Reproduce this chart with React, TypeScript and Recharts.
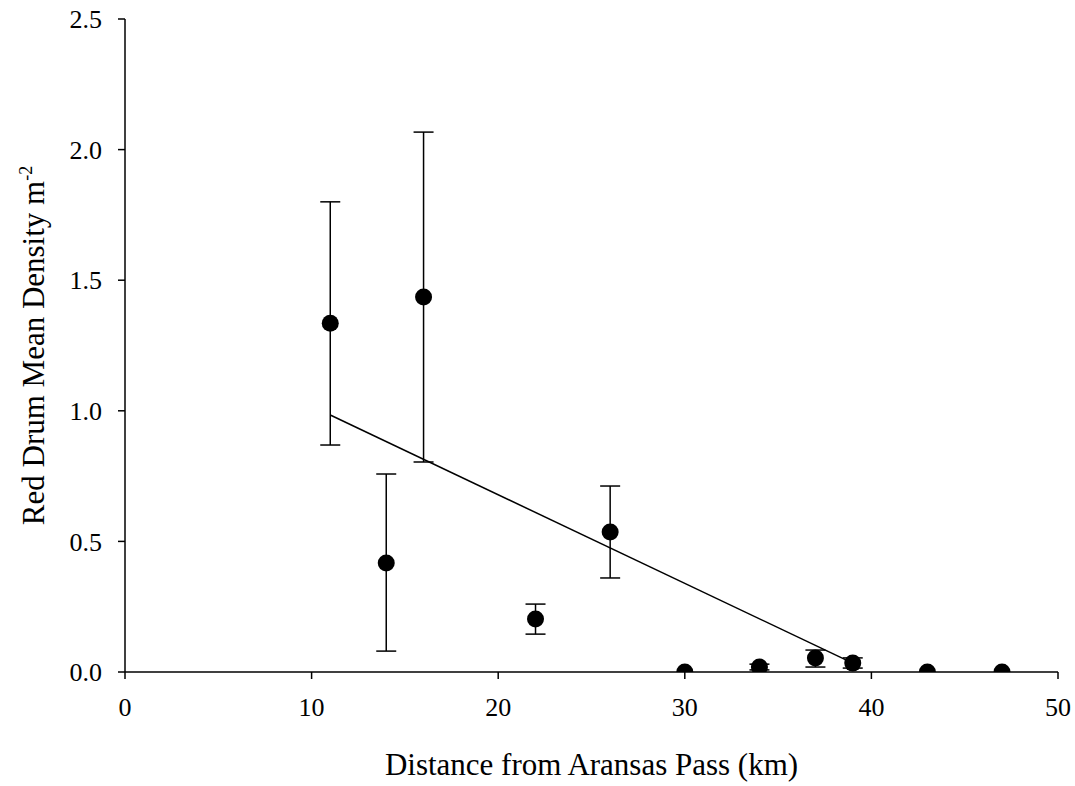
import * as React from "react"
import { ComposedChart, Scatter, ErrorBar, XAxis, YAxis } from "recharts"

// distance from Aransas Pass (km) and red drum mean density (m^-2)
const distance = [11, 14, 16, 22, 26, 30, 34, 37, 39, 43, 47]
const density = [1.335, 0.417, 1.436, 0.203, 0.536, 0, 0.019, 0.054, 0.034, 0, 0]
// error bar ends (null = no bar drawn)
const lowerEnd = [0.869, 0.08, 0.804, 0.145, 0.36, null, 0.008, 0.019, 0.015, null, null]
const upperEnd = [1.8, 0.758, 2.067, 0.26, 0.712, null, 0.03, 0.084, 0.054, null, null]

// fitted regression line endpoints
const fitX = [11, 39]
const fitY = [0.984, 0.034]

const xTicks = [0, 10, 20, 30, 40, 50]
const yTicks = [0, 0.5, 1.0, 1.5, 2.0, 2.5]

const withBars = distance
  .map((x, i) => ({
    x,
    y: density[i],
    err: lowerEnd[i] == null ? null : [density[i] - lowerEnd[i]!, upperEnd[i]! - density[i]],
  }))
  .filter((d) => d.err != null)

const noBars = distance
  .map((x, i) => ({ x, y: density[i], has: lowerEnd[i] != null }))
  .filter((d) => !d.has)

const fitData = fitX.map((x, i) => ({ x, y: fitY[i] }))

const FONT = "'Liberation Serif', 'Times New Roman', serif"

const Dot = (props: any) => <circle cx={props.cx} cy={props.cy} r={8.5} fill="#000" />
const NoDot = () => <g />

const tickStyle = { fill: "#000", fontSize: 26, fontFamily: FONT }

export default function App() {
  return (
    <div style={{ position: "absolute", left: 0, top: 0, background: "#fff" }}>
      <ComposedChart
        width={1075}
        height={786}
        margin={{ top: 19, right: 17, bottom: 14, left: 0 }}
      >
        <XAxis
          type="number"
          dataKey="x"
          domain={[0, 50]}
          ticks={xTicks}
          tickSize={7}
          height={100}
          axisLine={{ stroke: "#000", strokeWidth: 1.5 }}
          tickLine={{ stroke: "#000", strokeWidth: 1.5 }}
          tick={tickStyle}
          tickMargin={19}
          allowDataOverflow
          label={({ viewBox }: any) => (
            <text
              x={viewBox.x + viewBox.width / 2}
              y={775}
              textAnchor="middle"
              fontSize={31}
              fontFamily={FONT}
              fill="#000"
            >
              Distance from Aransas Pass (km)
            </text>
          )}
        />
        <YAxis
          type="number"
          dataKey="y"
          domain={[0, 2.5]}
          ticks={yTicks}
          tickFormatter={(v: number) => v.toFixed(1)}
          tickSize={7}
          width={125}
          axisLine={{ stroke: "#000", strokeWidth: 1.5 }}
          tickLine={{ stroke: "#000", strokeWidth: 1.5 }}
          tick={tickStyle}
          tickMargin={16}
          allowDataOverflow
          label={({ viewBox }: any) => {
            const cy = viewBox.y + viewBox.height / 2
            return (
              <text
                x={44}
                y={cy}
                transform={`rotate(-90 44 ${cy})`}
                textAnchor="middle"
                fontSize={31}
                fontFamily={FONT}
                fill="#000"
              >
                Red Drum Mean Density m
                <tspan fontSize={18} dy={-12}>-2</tspan>
              </text>
            )
          }}
        />
        <Scatter
          data={fitData}
          line={{ stroke: "#000", strokeWidth: 1.5 }}
          shape={NoDot}
          isAnimationActive={false}
        />
        <Scatter data={withBars} shape={Dot} isAnimationActive={false}>
          <ErrorBar dataKey="err" direction="y" width={10} stroke="#000" strokeWidth={1.5} />
        </Scatter>
        <Scatter data={noBars} shape={Dot} isAnimationActive={false} />
      </ComposedChart>
    </div>
  )
}
